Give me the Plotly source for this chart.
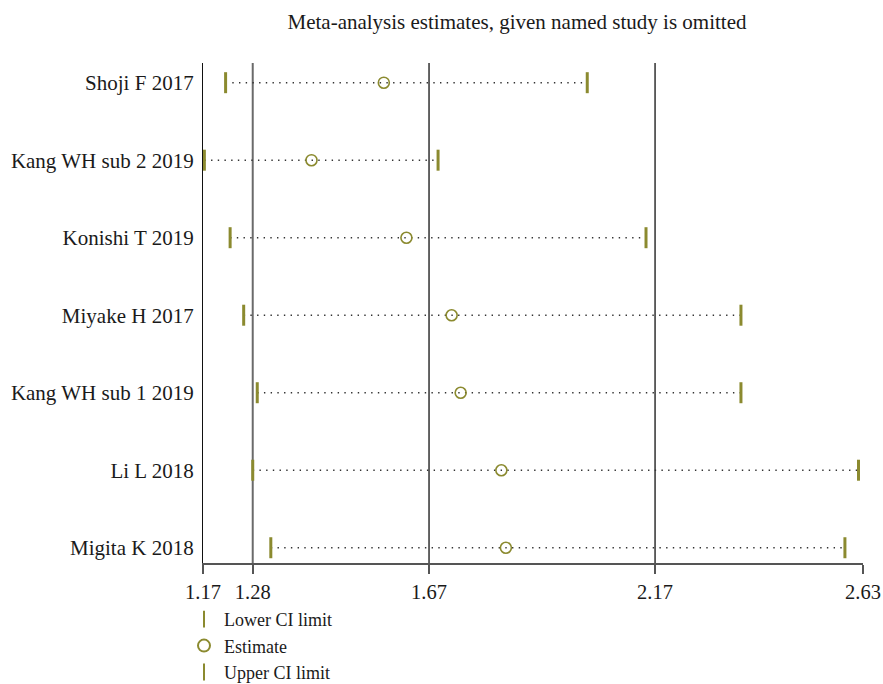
import plotly.graph_objects as go

# Influence analysis: pooled estimate with each study left out in turn
studies = ["Shoji F 2017", "Kang WH sub 2 2019", "Konishi T 2019", "Miyake H 2017",
           "Kang WH sub 1 2019", "Li L 2018", "Migita K 2018"]
estimate = [1.57, 1.41, 1.62, 1.72, 1.74, 1.83, 1.84]
lower_ci = [1.22, 1.173, 1.23, 1.26, 1.29, 1.28, 1.32]
upper_ci = [2.02, 1.69, 2.15, 2.36, 2.36, 2.62, 2.59]

# Full-model lower CI, estimate and upper CI (reference lines)
overall = [1.28, 1.67, 2.17]
overall_colors = ["#6a6a6a", "#111111", "#111111"]
overall_widths = [2, 1.3, 1.3]

x_ticks = [1.17, 1.28, 1.67, 2.17, 2.63]
x_range = [1.17, 2.63]

OLIVE = "#8b8a2f"
FONT = "Liberation Serif"

# dotted connector from lower to upper limit on each row
seg_x, seg_y = [], []
for s, lo, hi in zip(studies, lower_ci, upper_ci):
    seg_x += [lo, hi, None]
    seg_y += [s, s, None]

fig = go.Figure()
fig.add_trace(go.Scatter(
    x=seg_x, y=seg_y, mode="lines", showlegend=False, hoverinfo="skip",
    line=dict(color="#333333", width=1.4, dash="1.4px,5.3px"),
))
fig.add_trace(go.Scatter(
    x=lower_ci, y=studies, mode="markers", name="Lower CI limit", cliponaxis=False,
    marker=dict(symbol="line-ns", size=15, color=OLIVE, line=dict(color=OLIVE, width=3)),
))
fig.add_trace(go.Scatter(
    x=estimate, y=studies, mode="markers", name="Estimate", cliponaxis=False,
    marker=dict(symbol="circle-open", size=11, color=OLIVE, line=dict(color=OLIVE, width=1.6)),
))
fig.add_trace(go.Scatter(
    x=upper_ci, y=studies, mode="markers", name="Upper CI limit", cliponaxis=False,
    marker=dict(symbol="line-ns", size=15, color=OLIVE, line=dict(color=OLIVE, width=3)),
))

for v, c, w in zip(overall, overall_colors, overall_widths):
    fig.add_shape(type="line", xref="x", yref="paper", x0=v, x1=v, y0=0, y1=1,
                  line=dict(color=c, width=w), layer="below")

fig.update_layout(
    width=883, height=684,
    margin=dict(l=203, r=20, t=63, b=121, autoexpand=False),
    paper_bgcolor="white", plot_bgcolor="white",
    font=dict(family=FONT, size=20, color="#1a1a1a"),
    title=dict(text="Meta-analysis estimates, given named study is omitted",
               xref="container", yref="container", x=517 / 883, xanchor="center",
               y=1 - 22 / 684, yanchor="middle", font=dict(family=FONT, size=21, color="#1a1a1a")),
    xaxis=dict(range=x_range, tickvals=x_ticks, ticktext=[f"{t:.2f}" for t in x_ticks],
               automargin=False, tickangle=0,
               showgrid=False, zeroline=False, showline=True, linecolor="#555555", linewidth=2,
               ticks="outside", ticklen=9, tickwidth=1.5, tickcolor="#555555",
               tickfont=dict(family=FONT, size=20.5, color="#1a1a1a")),
    yaxis=dict(type="category", categoryorder="array", categoryarray=studies,
               range=[6.197, -0.254], showgrid=False, zeroline=False, automargin=False,
               showline=True, linecolor="#111111", linewidth=1.3, ticks="",
               ticklabelstandoff=4,
               tickfont=dict(family=FONT, size=21, color="#1a1a1a")),
    legend=dict(xref="container", yref="container", x=184 / 883, y=1 - 601 / 684,
                xanchor="left", yanchor="top", itemsizing="constant",
                bgcolor="rgba(0,0,0,0)", font=dict(family=FONT, size=18, color="#1a1a1a"),
                tracegroupgap=0),
)

fig.write_html("out.html")
